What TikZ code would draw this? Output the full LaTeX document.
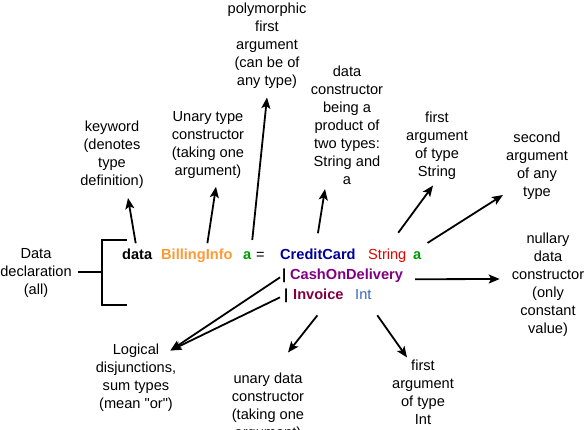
\documentclass[tikz,border=0pt]{standalone}
\usepackage{fontspec}
\setmainfont{Liberation Sans}
\newfontfamily\qfont{Liberation Sans}[Ligatures=ResetAll]
\usetikzlibrary{arrows.meta}
\definecolor{hsT}{RGB}{255,153,51}
\definecolor{hsA}{RGB}{0,153,0}
\definecolor{hsC}{RGB}{0,0,153}
\definecolor{hsS}{RGB}{230,0,0}
\definecolor{hsD}{RGB}{128,0,128}
\definecolor{hsI}{RGB}{128,0,64}
\definecolor{hsN}{RGB}{51,102,187}
\newcommand{\dq}{{\qfont\symbol{34}}}

\begin{document}
\begin{tikzpicture}[
    x=1pt, y=-1pt,
    every node/.style={font=\fontsize{14.6}{18}\selectfont},
    code/.style={anchor=base west, inner sep=0pt, font=\fontsize{14.6}{18}\selectfont\bfseries},
    plain/.style={anchor=base west, inner sep=0pt},
    lbl/.style={align=center, inner sep=0pt},
    arr/.style={draw=black, line width=1.8pt, -{Stealth[length=11pt,width=9pt,inset=2.5pt]}},
    brk/.style={draw=black, line width=1.8pt},
  ]
  \useasboundingbox (0,0) rectangle (585,429);

  % the declaration itself, three lines
  \node[code] (kw)   at (122,259) {data};
  \node[code, text=hsT] (tname) at (161,259) {BillingInfo};
  \node[code, text=hsA] (tvar)  at (243,259) {a};
  \node[plain] (eq)  at (256,259) {=};
  \node[code, text=hsC] (cc)    at (280,259) {CreditCard};
  \node[plain, text=hsS] (str)  at (368,259) {String};
  \node[code, text=hsA] (avar)  at (413,259) {a};
  \node[code] (bar1) at (282,279) {|};
  \node[code, text=hsD] (cod)   at (290,279) {CashOnDelivery};
  \node[code] (bar2) at (284,299) {|};
  \node[code, text=hsI] (inv)   at (293,299) {Invoice};
  \node[plain, text=hsN] (int)  at (355,299) {Int};

  % remarks
  \node[lbl] (decl)  at (36,273)    {Data\\declaration\\(all)};
  \node[lbl] (kwl)   at (112,155)   {keyword\\(denotes\\type\\definition)};
  \node[lbl] (tcl)   at (208,145)   {Unary type\\constructor\\(taking one\\argument)};
  \node[lbl] (polyl) at (267,45.5)  {polymorphic\\first\\argument\\(can be of\\any type)};
  \node[lbl] (prodl) at (347,125.5) {data\\constructor\\being a\\product of\\two types:\\String and\\a};
  \node[lbl] (strl)  at (437,145.5) {first\\argument\\of type\\String};
  \node[lbl] (secl)  at (537,166)   {second\\argument\\of any\\type};
  \node[lbl] (nulll) at (548,284.5) {nullary\\data\\constructor\\(only\\constant\\value)};
  \node[lbl] (sumsl) at (136,377.5) {Logical\\disjunctions,\\sum types\\(mean \dq or\dq)};
  \node[lbl] (udcl)  at (268,406.5) {unary data\\constructor\\(taking one\\argument)};
  \node[lbl] (intl)  at (423,392)   {first\\argument\\of type\\Int};

  % bracket round the whole declaration
  \coordinate (brTop) at (127,240);
  \coordinate (brMid) at (102,272);
  \coordinate (brBot) at (127,305);
  \draw[brk] (brTop) -| (brMid) |- (brBot);
  \draw[brk] ([xshift=6pt,yshift=1pt]decl.east) -- (brMid);

  % pointers
  \draw[arr] ([xshift=-1.5pt,yshift=5pt]kw.north) -- ([xshift=16pt,yshift=-9pt]kwl.south);
  \draw[arr] ([xshift=10.5pt,yshift=5pt]tname.north) -- ([xshift=8pt,yshift=-8pt]tcl.south);
  \draw[arr] ([xshift=5pt,yshift=11pt]tvar.north) -- ([yshift=-9pt]polyl.south);
  \draw[arr] ([yshift=15pt]cc.north) -- ([xshift=-22pt,yshift=-4pt]prodl.south);
  \draw[arr] ([xshift=11pt,yshift=15.5pt]str.north) -- ([xshift=-4pt,yshift=-6pt]strl.south);
  \draw[arr] ([xshift=6pt,yshift=8pt]avar.north east) -- ([xshift=-3pt,yshift=5pt]secl.south west);
  \draw[arr] ([xshift=12pt,yshift=-4pt]cod.east) -- ([xshift=-12pt,yshift=5.5pt]nulll.west);
  \draw[arr] ([xshift=-2pt,yshift=-2pt]bar1.west) -- ([xshift=-6pt,yshift=-7pt]sumsl.north east);
  \draw[arr] ([xshift=-4pt,yshift=-2pt]bar2.west) -- ([xshift=-6pt,yshift=-7pt]sumsl.north east);
  \draw[arr] ([xshift=-1pt,yshift=-16pt]inv.south) -- ([xshift=20pt,yshift=20pt]udcl.north);
  \draw[arr] ([xshift=14pt,yshift=-16pt]int.south) -- ([xshift=-16pt,yshift=2pt]intl.north);

\end{tikzpicture}
\end{document}
